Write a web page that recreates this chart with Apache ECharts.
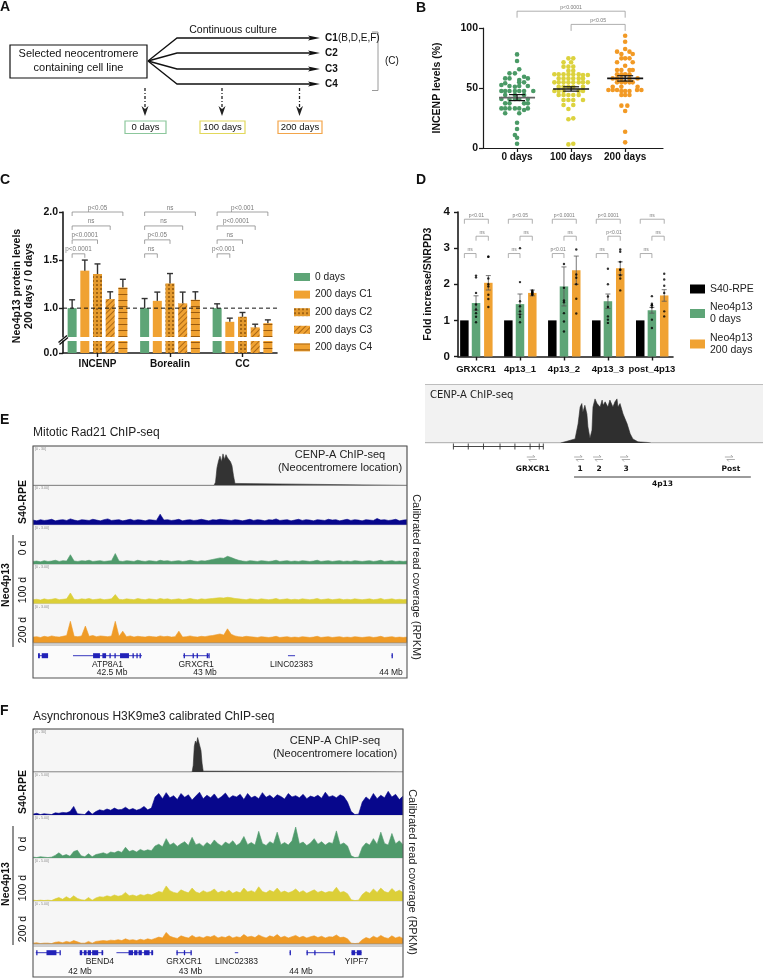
<!DOCTYPE html>
<html><head><meta charset="utf-8">
<script src="https://cdn.jsdelivr.net/npm/echarts@6/dist/echarts.min.js"></script>
<style>html,body{margin:0;padding:0;background:#fff;}#chart{width:763px;height:978px;}</style>
</head><body><div id="chart"></div>
<script>
// ================= DATA =================
// Panel B: [jitter within group, INCENP level %]
const B_groups = ['0 days', '100 days', '200 days'];
const B_day0 = [[0,78],[0,72.5],[0.04,65.6],[-0.14,62.2],[-0.04,62.2],[0.13,59.4],[-0.22,58],[-0.14,58],[0.2,58],[0.04,56.7],[0.04,54.7],[0.13,54.7],[-0.22,53.9],[-0.29,52.5],[-0.14,51.7],[-0.04,51.1],[0.04,51.7],[0.2,51.7],[-0.29,47.5],[-0.22,47.5],[-0.14,47.5],[-0.04,47.5],[0.04,47.5],[0.13,47.5],[0.3,47.5],[-0.22,44.2],[-0.04,44.2],[0.13,44.2],[-0.29,40.8],[-0.14,40.8],[-0.04,40.8],[0.04,40.8],[0.2,40.8],[-0.22,37.2],[-0.14,37.2],[0.13,37.2],[0.2,37.2],[-0.29,33],[-0.22,33],[-0.14,33],[-0.04,33],[0.04,33],[0.2,33],[-0.22,28.9],[0.04,28.9],[0.13,31.7],[0,21.1],[0,15.8],[-0.04,10.8],[0,8.6],[0,3.6]];
const B_day100 = [[-0.05,74.7],[0.04,74.7],[-0.14,71.4],[0,71.4],[-0.14,67.8],[-0.05,67.8],[0.04,67.8],[-0.05,64.4],[0.04,64.4],[-0.31,61.4],[-0.23,61.4],[-0.14,61.4],[-0.05,61.4],[0.04,61.4],[0.14,61.4],[0.22,60.8],[0.31,60.8],[-0.23,58],[-0.14,58],[-0.05,58],[0.04,58],[0.14,58],[0.22,58],[-0.31,54.7],[-0.23,54.7],[-0.14,54.7],[-0.05,54.7],[0.04,54.7],[0.14,54.7],[0.22,54.7],[0.31,54.7],[-0.23,51.1],[-0.14,51.1],[-0.05,51.1],[0.04,51.1],[0.22,51.1],[-0.31,47.5],[-0.23,47.5],[-0.14,47.5],[0.14,47.5],[0.22,47.5],[-0.23,44.2],[-0.14,44.2],[-0.05,44.2],[0.04,44.2],[0.14,44.2],[-0.14,40],[-0.05,40],[0.04,40],[0.22,40],[-0.14,35.8],[0.04,35.8],[-0.05,32.5],[-0.05,23.9],[0.04,24.7],[-0.05,3],[0.04,3.6]];
const B_day200 = [[0,93.6],[0,88.6],[-0.15,80.3],[0,82.5],[0.08,80.3],[-0.07,78.3],[0.14,78.3],[-0.07,74.7],[0,74.7],[0.08,74.7],[-0.15,71.4],[0.14,71.4],[0,68.6],[-0.15,65],[-0.07,65],[0.08,65],[0.14,65],[-0.15,61.4],[-0.07,61.4],[0,61.4],[0.08,61.4],[-0.23,58],[-0.15,58],[-0.07,58],[0.08,58],[0.23,58],[-0.15,54.7],[-0.07,54.7],[0,54.7],[0.08,54.7],[0.14,54.7],[-0.23,51.1],[-0.07,51.1],[0.23,51.1],[-0.31,48.3],[-0.23,48.3],[-0.15,48.3],[-0.07,47.5],[0,47.5],[0.08,47.5],[0.22,48.3],[0.3,48.3],[-0.07,44.2],[0,44.2],[0.08,44.2],[-0.07,35.3],[0.04,35.3],[0,30.8],[0,13.6],[0,4.7]];
const B_mean = [42, 49.2, 58];
const B_sem = [2.5, 1.8, 2.2];
const B_comps = [[0, 2, 'p<0.0001'], [1, 2, 'p<0.05']];

// Panel C
const C_categories = ['INCENP', 'Borealin', 'CC'];
const C_groups = ['0 days', '200 days C1', '200 days C2', '200 days C3', '200 days C4'];
const C_day0 = [1.00, 1.00, 1.00];
const C_c1 = [1.39, 1.076, 0.858];
const C_c2 = [1.355, 1.257, 0.91];
const C_c3 = [1.094, 1.05, 0.80];
const C_c4 = [1.215, 1.087, 0.844];
const C_err0 = [0.087, 0.10, 0.045];
const C_err1 = [0.11, 0.091, 0.038];
const C_err2 = [0.105, 0.103, 0.045];
const C_err3 = [0.076, 0.117, 0.033];
const C_err4 = [0.085, 0.083, 0.034];
const C_refLine = 1.0;
const C_comps = [[0,0,4,'p<0.05'],[0,0,3,'ns'],[0,0,2,'p<0.0001'],[0,0,1,'p<0.0001'],
                 [1,0,4,'ns'],[1,0,3,'ns'],[1,0,2,'p<0.05'],[1,0,1,'ns'],
                 [2,0,4,'p<0.001'],[2,0,3,'p<0.0001'],[2,0,2,'ns'],[2,0,1,'p<0.001']];

// Panel D
const D_sites = ['GRXCR1', '4p13_1', '4p13_2', '4p13_3', 'post_4p13'];
const D_groups = ['S40-RPE', 'Neo4p13\n0 days', 'Neo4p13\n200 days'];
const D_s40 = [1, 1, 1, 1, 1];
const D_neo0 = [1.48, 1.45, 1.94, 1.53, 1.28];
const D_neo200 = [2.04, 1.76, 2.39, 2.44, 1.69];
const D_neo0Err = [0.2, 0.28, 0.54, 0.2, 0.08];
const D_neo200Err = [0.2, 0.08, 0.39, 0.18, 0.16];
const D_neo0Pts = [[2.24,2.19,1.76,1.44,1.30,1.20,1.10,0.95],[3.0,2.06,1.53,1.39,1.25,1.16,1.09,0.95],[2.56,1.9,1.55,1.5,1.2,0.97,0.69],[2.43,2.0,1.66,1.37,1.11,1.02,0.93],[1.67,1.46,1.42,1.42,1.36,1.02,0.79]];
const D_neo200Pts = [[2.76,2.76,2.16,2.0,1.94,1.71,1.59,1.37],[1.83,1.8,1.78,1.76,1.74,1.72,1.7],[2.96,2.27,2.18,2.0,1.6,1.19],[2.96,2.9,2.62,2.4,2.4,2.25,2.16,1.83],[2.29,2.13,1.96,1.76,1.25,1.11]];
const D_comps = [[0,0,2,'p<0.01'],[0,1,2,'ns'],[0,0,1,'ns'],
                 [1,0,2,'p<0.05'],[1,1,2,'ns'],[1,0,1,'ns'],
                 [2,0,2,'p<0.0001'],[2,1,2,'ns'],[2,0,1,'p<0.01'],
                 [3,0,2,'p<0.0001'],[3,1,2,'p<0.01'],[3,0,1,'ns'],
                 [4,0,2,'ns'],[4,1,2,'ns'],[4,0,1,'ns']];
// D lower: CENP-A profile over the 4p13 region (relative position 0-100, signal 0-1)
const D_cenpa = [[0,0],[40,0],[41.4,0.02],[44.4,0.07],[45.3,0.33],[45.9,0.62],[46.4,0.68],[46.7,0.53],[47.3,0.65],[47.9,0.5],[48.2,0.28],[48.8,0.08],[49.4,0.22],[49.7,0.62],[50.3,0.76],[50.9,0.68],[51.2,0.71],[51.8,0.62],[52.4,0.74],[52.7,0.65],[53.3,0.71],[53.8,0.68],[54.1,0.62],[54.7,0.74],[55.6,0.62],[56.2,0.71],[56.8,0.76],[57.1,0.62],[57.7,0.68],[58.6,0.5],[59.8,0.33],[60.7,0.16],[61.5,0.07],[63.0,0.02],[65.7,0.01],[67,0],[100,0]];
const D_primerPos = [31.6, 45.6, 51.2, 59.2, 90.2];
const D_primerLab = ['GRXCR1', '1', '2', '3', 'Post'];
const D_geneSpan = [8.4, 35.0];
const D_geneTicks = [8.4, 12.8, 17.3, 22.2, 26.6, 31.1, 33.8, 35.0];
const D_region = [44.1, 96.4];
const D_regionLab = '4p13';

// Panel E (Rad21) : signal fraction of track, 101 bins
const E_cenpa = [[0,0],[48.4,0],[48.8,0.08],[49.2,0.45],[49.6,0.62],[50.0,0.74],[50.4,0.6],[50.8,0.8],[51.2,0.66],[51.6,0.78],[52.0,0.7],[52.4,0.75],[52.8,0.6],[53.2,0.5],[53.6,0.25],[54.0,0.05],[54.3,0],[100,0]];
const E_s40 = [0.12,0.10,0.13,0.11,0.12,0.14,0.10,0.12,0.13,0.11, 0.15,0.12,0.10,0.13,0.12,0.11,0.14,0.12,0.10,0.13, 0.15,0.11,0.12,0.13,0.10,0.12,0.14,0.11,0.13,0.12, 0.10,0.13,0.12,0.11,0.27,0.12,0.13,0.11,0.12,0.14, 0.10,0.12,0.13,0.11,0.12,0.14,0.12,0.10,0.13,0.12, 0.14,0.13,0.12,0.11,0.13,0.12,0.10,0.12,0.14,0.11, 0.13,0.12,0.10,0.13,0.12,0.15,0.11,0.12,0.13,0.10, 0.12,0.14,0.11,0.13,0.12,0.10,0.13,0.12,0.11,0.14, 0.12,0.13,0.10,0.12,0.14,0.11,0.13,0.12,0.10,0.13, 0.12,0.11,0.16,0.12,0.13,0.11,0.12,0.14,0.10,0.12, 0.13];
const E_d0 = [0.07,0.08,0.06,0.09,0.07,0.08,0.10,0.07,0.09,0.08, 0.24,0.08,0.07,0.09,0.08,0.10,0.07,0.08,0.09,0.07, 0.08,0.09,0.27,0.08,0.07,0.09,0.08,0.07,0.10,0.08, 0.07,0.09,0.08,0.07,0.10,0.08,0.09,0.07,0.08,0.09, 0.07,0.08,0.10,0.08,0.07,0.09,0.08,0.10,0.12,0.14, 0.16,0.15,0.20,0.17,0.13,0.10,0.08,0.07,0.09,0.08, 0.07,0.09,0.08,0.07,0.08,0.10,0.07,0.08,0.09,0.07, 0.08,0.07,0.09,0.08,0.07,0.08,0.10,0.07,0.08,0.09, 0.07,0.08,0.09,0.07,0.08,0.07,0.09,0.08,0.07,0.08, 0.09,0.07,0.08,0.10,0.07,0.08,0.09,0.07,0.08,0.07, 0.08];
const E_d100 = [0.10,0.11,0.09,0.12,0.10,0.11,0.13,0.10,0.11,0.12, 0.27,0.11,0.10,0.12,0.11,0.13,0.10,0.11,0.12,0.10, 0.11,0.12,0.23,0.11,0.10,0.12,0.11,0.10,0.13,0.11, 0.10,0.12,0.11,0.10,0.13,0.11,0.12,0.10,0.11,0.12, 0.10,0.11,0.13,0.11,0.10,0.12,0.11,0.12,0.13,0.14, 0.15,0.14,0.16,0.15,0.13,0.12,0.11,0.10,0.12,0.11, 0.10,0.12,0.11,0.10,0.11,0.13,0.10,0.11,0.12,0.10, 0.11,0.10,0.12,0.11,0.10,0.11,0.13,0.10,0.11,0.12, 0.10,0.11,0.12,0.10,0.11,0.10,0.12,0.11,0.10,0.11, 0.12,0.10,0.11,0.13,0.10,0.11,0.12,0.10,0.11,0.10, 0.11];
const E_d200 = [0.15,0.16,0.14,0.17,0.15,0.18,0.16,0.15,0.17,0.19, 0.55,0.17,0.16,0.18,0.43,0.17,0.19,0.16,0.18,0.17, 0.16,0.18,0.55,0.17,0.30,0.16,0.18,0.15,0.17,0.16, 0.15,0.17,0.16,0.15,0.18,0.16,0.17,0.15,0.16,0.30, 0.15,0.16,0.18,0.16,0.15,0.17,0.16,0.18,0.19,0.21, 0.23,0.20,0.36,0.22,0.18,0.16,0.15,0.17,0.16,0.15, 0.14,0.16,0.15,0.14,0.15,0.17,0.14,0.15,0.16,0.14, 0.15,0.14,0.16,0.15,0.14,0.15,0.17,0.14,0.15,0.16, 0.14,0.15,0.16,0.14,0.15,0.14,0.16,0.15,0.14,0.15, 0.16,0.14,0.15,0.17,0.14,0.15,0.16,0.14,0.15,0.14, 0.15];
const E_genes = [[42.102,42.156,''],[42.290,42.661,'ATP8A1'],[42.882,43.022,'GRXCR1'],[43.446,43.484,'LINC02383'],[44.003,44.007,'']];
const E_exons = [[42.102,42.112],[42.122,42.156],[42.398,42.435],[42.448,42.468],[42.486,42.492],[42.513,42.519],[42.543,42.591],[42.610,42.616],[42.631,42.637],[42.648,42.654],[42.885,42.889],[42.933,42.937],[42.955,42.959],[43.009,43.013],[43.018,43.022],[44.003,44.007]];
const E_ticks = [42.5, 43, 44];

// Panel F (H3K9me3)
const F_cenpa = [[0,0],[43.0,0],[43.3,0.15],[43.6,0.6],[43.9,0.72],[44.2,0.66],[44.5,0.8],[44.8,0.7],[45.1,0.68],[45.4,0.5],[45.7,0.2],[46.0,0.02],[46.3,0],[100,0]];
const F_s40 = [0.02,0.04,0.01,0.03,0.02,0.01,0.05,0.04,0.06,0.05, 0.08,0.20,0.03,0.02,0.01,0.10,0.02,0.08,0.12,0.10, 0.14,0.11,0.16,0.12,0.13,0.18,0.12,0.15,0.11,0.14, 0.20,0.12,0.16,0.42,0.50,0.38,0.52,0.40,0.45,0.36, 0.50,0.41,0.47,0.35,0.44,0.53,0.38,0.46,0.40,0.49, 0.37,0.43,0.51,0.39,0.45,0.42,0.48,0.36,0.50,0.40, 0.44,0.38,0.52,0.41,0.46,0.39,0.47,0.43,0.37,0.50, 0.42,0.45,0.40,0.48,0.38,0.44,0.41,0.46,0.39,0.53, 0.42,0.45,0.40,0.47,0.43,0.30,0.08,0.01,0.02,0.30, 0.42,0.35,0.50,0.38,0.46,0.40,0.55,0.42,0.48,0.36, 0.44];
const F_d0 = [0.02,0.01,0.03,0.02,0.01,0.02,0.06,0.12,0.05,0.08, 0.04,0.15,0.18,0.05,0.03,0.10,0.03,0.08,0.10,0.12, 0.09,0.14,0.12,0.16,0.13,0.25,0.15,0.18,0.14,0.20, 0.16,0.19,0.17,0.28,0.32,0.26,0.45,0.30,0.35,0.27, 0.33,0.38,0.29,0.48,0.31,0.34,0.27,0.36,0.30,0.42, 0.33,0.28,0.37,0.32,0.40,0.29,0.35,0.50,0.31,0.36, 0.30,0.62,0.34,0.29,0.38,0.33,0.60,0.31,0.36,0.30, 0.40,0.72,0.33,0.37,0.29,0.35,0.45,0.32,0.38,0.30, 0.36,0.34,0.63,0.31,0.35,0.28,0.05,0.01,0.02,0.25, 0.35,0.30,0.45,0.32,0.60,0.34,0.30,0.57,0.33,0.40, 0.31];
const F_d100 = [0.02,0.01,0.02,0.01,0.02,0.01,0.05,0.08,0.04,0.10, 0.05,0.12,0.06,0.03,0.02,0.08,0.02,0.07,0.10,0.09, 0.12,0.10,0.14,0.11,0.13,0.20,0.12,0.14,0.11,0.15, 0.13,0.16,0.14,0.18,0.22,0.20,0.35,0.24,0.20,0.18, 0.26,0.22,0.19,0.30,0.21,0.18,0.24,0.20,0.22,0.28, 0.19,0.23,0.20,0.25,0.18,0.22,0.19,0.30,0.21,0.24, 0.20,0.33,0.22,0.19,0.25,0.21,0.30,0.20,0.23,0.19, 0.22,0.28,0.20,0.24,0.18,0.22,0.26,0.20,0.23,0.19, 0.22,0.21,0.32,0.20,0.22,0.17,0.03,0.01,0.02,0.15, 0.22,0.18,0.28,0.20,0.30,0.22,0.19,0.29,0.21,0.25, 0.20];
const F_d200 = [0.02,0.03,0.01,0.02,0.02,0.01,0.04,0.05,0.03,0.06, 0.04,0.08,0.05,0.02,0.02,0.06,0.02,0.06,0.07,0.08, 0.07,0.09,0.08,0.10,0.08,0.12,0.09,0.10,0.08,0.11, 0.09,0.12,0.10,0.13,0.16,0.14,0.27,0.18,0.15,0.13, 0.19,0.16,0.14,0.20,0.15,0.17,0.14,0.18,0.16,0.20, 0.14,0.17,0.15,0.19,0.14,0.17,0.15,0.22,0.16,0.18, 0.15,0.21,0.17,0.14,0.19,0.16,0.22,0.15,0.18,0.14, 0.17,0.20,0.15,0.18,0.14,0.17,0.19,0.15,0.18,0.14, 0.17,0.16,0.21,0.15,0.16,0.12,0.02,0.01,0.02,0.10, 0.15,0.12,0.18,0.14,0.20,0.15,0.13,0.19,0.14,0.17, 0.13];
const F_genes = [[41.600,41.817,''],[41.998,42.210,'BEND4',42.18],[42.330,42.662,''],[42.873,43.009,'GRXCR1'],[43.401,43.432,'LINC02383'],[43.897,43.901,''],[44.050,44.303,''],[44.457,44.548,'YIPF7']];
const F_exons = [[41.604,41.61],[41.697,41.787],[41.815,41.819],[41.998,42.02],[42.035,42.06],[42.07,42.1],[42.11,42.165],[42.195,42.21],[42.44,42.48],[42.49,42.52],[42.53,42.56],[42.58,42.63],[42.645,42.662],[42.873,42.88],[42.94,42.947],[43.0,43.009],[43.897,43.901],[44.05,44.058],[44.12,44.125],[44.295,44.303],[44.457,44.49],[44.505,44.548]];
const F_ticks = [42, 43, 44];

// ================= STYLE / LAYOUT =================
const FONT = "'Liberation Sans', Arial, Helvetica, sans-serif";
const VFONT = "'DejaVu Sans', Verdana, sans-serif";
const GREEN = '#5ea577', ORANGE = '#f0a232', YEL = '#dcd23e';
const TRK = {navy: '#07078c', green: '#4f9a6b', yellow: '#dccf38', orange: '#ef9b27', cen: '#333333'};

const chart = echarts.init(document.getElementById('chart'), null, {renderer: 'canvas'});
const grid = [], xAxis = [], yAxis = [], series = [];
function addGrid(g, xa, ya) {
  const i = grid.length; grid.push(g);
  xAxis.push(Object.assign({gridIndex: i, type: 'value', splitLine: {show: false}}, xa));
  yAxis.push(Object.assign({gridIndex: i, type: 'value', splitLine: {show: false}}, ya));
  return i;
}
const hid = (min, max) => ({min, max, show: false});
const line = (w) => ({show: true, onZero: false, lineStyle: {color: '#1a1a1a', width: w}});
const tick = (cv, w) => { const t = {show: true, length: 4, lineStyle: {color: '#1a1a1a', width: w || 1.2}}; if (cv) t.customValues = cv; return t; };
const lab = (o) => Object.assign({fontWeight: 'bold', color: '#111', fontFamily: FONT}, o);

function txt(x, y, text, o) {
  o = o || {};
  return {type: 'text', x, y, rotation: o.rot || 0, silent: true, z: 100,
    style: {text, fill: o.color || '#111', fontSize: o.size || 10, fontWeight: o.weight || 'normal',
      fontFamily: o.family || FONT, align: o.align || 'left', textAlign: o.align || 'left',
      verticalAlign: o.va || 'middle', textVerticalAlign: o.va || 'middle', lineHeight: o.lh || undefined}};
}
function ln(x1, y1, x2, y2, stroke, w, dash) {
  return {type: 'line', silent: true, z: 60, shape: {x1, y1, x2, y2}, style: {stroke, lineWidth: w || 1, lineDash: dash || null}};
}
function pl(points, stroke, w) { return {type: 'polyline', silent: true, z: 60, shape: {points}, style: {stroke, lineWidth: w || 1, fill: null}}; }
function pg(points, fill) { return {type: 'polygon', silent: true, z: 60, shape: {points}, style: {fill}}; }
function rc(x, y, w, h, stroke, lw) { return {type: 'rect', silent: true, z: 60, shape: {x, y, width: w, height: h}, style: {stroke, lineWidth: lw || 1, fill: 'none'}}; }

function bracketSeries(gi, list, tierY, leg, fs, color) {
  return {
    type: 'custom', xAxisIndex: gi, yAxisIndex: gi, silent: true, z: 10, clip: false,
    data: list.map(d => [d.x1, d.x2, tierY[d.tier]]), encode: {x: [0, 1], y: 2},
    renderItem: (params, api) => {
      const d = list[params.dataIndex];
      const a = api.coord([d.x1, tierY[d.tier]]), b = api.coord([d.x2, tierY[d.tier]]);
      return {type: 'group', children: [
        {type: 'polyline', shape: {points: [[a[0], a[1] + leg], [a[0], a[1]], [b[0], b[1]], [b[0], b[1] + leg]]}, style: {stroke: color, lineWidth: 0.8, fill: null}},
        {type: 'text', x: (a[0] + b[0]) / 2, y: a[1] - 1.2, style: {text: d.t, fill: '#7a7a7a', fontSize: fs, fontFamily: FONT, align: 'center', verticalAlign: 'bottom'}}
      ]};
    }
  };
}

// ---------- Panel B ----------
const gB = addGrid({left: 483, top: 28, width: 180, height: 120},
  {min: -0.63, max: 2.7, axisLine: line(1.2), axisTick: tick([0, 1, 2]),
   axisLabel: lab({customValues: [0, 1, 2], formatter: v => B_groups[Math.round(v)], fontSize: 10, margin: 4})},
  {min: 0, max: 100, interval: 50, axisLine: line(1.2), axisTick: tick(), axisLabel: lab({fontSize: 10.5, margin: 5}),
   name: 'INCENP levels (%)', nameLocation: 'middle', nameGap: 40, nameTextStyle: {fontWeight: 'bold', fontSize: 10.5, color: '#111', fontFamily: FONT}});
[B_day0, B_day100, B_day200].forEach((pts, g) => {
  series.push({type: 'scatter', name: 'B ' + B_groups[g], xAxisIndex: gB, yAxisIndex: gB, symbolSize: 4.6, silent: true,
    itemStyle: {color: ['#4a9a66', YEL, '#f29a25'][g], opacity: 1}, data: pts.map(p => [g + p[0], p[1]]), z: 3});
});
series.push({type: 'custom', xAxisIndex: gB, yAxisIndex: gB, silent: true, z: 6,
  data: B_mean.map((m, g) => [g, m, B_sem[g]]), encode: {x: 0, y: 1},
  renderItem: (params, api) => {
    const g = api.value(0), m = api.value(1), s = api.value(2);
    const c = api.coord([g, m]), hi = api.coord([g, m + s]), lo = api.coord([g, m - s]);
    const col = ['#666', '#111', '#111'][params.dataIndex];
    return {type: 'group', children: [
      {type: 'line', shape: {x1: c[0] - 18, y1: c[1], x2: c[0] + 18, y2: c[1]}, style: {stroke: col, lineWidth: 1.6}},
      {type: 'line', shape: {x1: c[0], y1: hi[1], x2: c[0], y2: lo[1]}, style: {stroke: '#111', lineWidth: 1.2}},
      {type: 'line', shape: {x1: c[0] - 8, y1: hi[1], x2: c[0] + 8, y2: hi[1]}, style: {stroke: '#111', lineWidth: 1.2}},
      {type: 'line', shape: {x1: c[0] - 8, y1: lo[1], x2: c[0] + 8, y2: lo[1]}, style: {stroke: '#111', lineWidth: 1.2}}
    ]};
  }});
series.push(bracketSeries(gB, B_comps.map((c, k) => ({x1: c[0], x2: c[1], tier: k, t: c[2]})), [114, 103], 6.5, 5.2, '#999'));

// ---------- Panel C ----------
const C_off = [-0.35, -0.175, 0, 0.175, 0.35];
const C_vals = [C_day0, C_c1, C_c2, C_c3, C_c4];
const C_errs = [C_err0, C_err1, C_err2, C_err3, C_err4];
const C_cols = [GREEN, ORANGE, '#e49a2e', ORANGE, ORANGE];
const C_decal = [null, null,
  {symbol: 'rect', symbolSize: 1, color: 'rgba(110,60,0,0.55)', dashArrayX: [1.5, 1.5], dashArrayY: [1.5, 1.5], rotation: 0},
  {symbol: 'rect', symbolSize: 1, color: 'rgba(125,65,0,0.6)', dashArrayX: [1, 0], dashArrayY: [1, 2.2], rotation: -Math.PI / 4},
  {symbol: 'rect', symbolSize: 1, color: 'rgba(125,65,0,0.75)', dashArrayX: [1, 0], dashArrayY: [0.9, 4.5], rotation: 0}];
const gCu = addGrid({left: 63, top: 212, width: 214, height: 125},
  hid(-0.476, 2.476),
  {min: 0.7, max: 2.0, axisLine: line(1.6), axisTick: tick([1, 1.5, 2], 1.4),
   axisLabel: lab({customValues: [1, 1.5, 2], formatter: v => v.toFixed(1), fontSize: 10.5, margin: 5})});
const gCl = addGrid({left: 63, top: 341, width: 214, height: 12},
  {min: -0.476, max: 2.476, axisLine: line(1.6), axisTick: tick([0, 1, 2], 1.4),
   axisLabel: lab({customValues: [0, 1, 2], formatter: v => C_categories[Math.round(v)], fontSize: 10, margin: 6})},
  {min: 0, max: 0.2, axisLine: line(1.6), axisTick: tick([0], 1.4),
   axisLabel: lab({customValues: [0], formatter: () => '0.0', fontSize: 10.5, margin: 5})});
[gCu, gCl].forEach(gi => {
  C_vals.forEach((vals, j) => {
    const it = {color: C_cols[j]}; if (C_decal[j]) it.decal = C_decal[j];
    series.push({type: 'bar', name: C_groups[j], xAxisIndex: gi, yAxisIndex: gi, barWidth: 9, barGap: '-100%', clip: true, silent: true,
      itemStyle: it, data: vals.map((v, i) => [i + C_off[j], v]), z: 2});
  });
});
series.push({type: 'custom', xAxisIndex: gCu, yAxisIndex: gCu, silent: true, z: 5,
  data: [].concat(...C_vals.map((vals, j) => vals.map((v, i) => [i + C_off[j], v, C_errs[j][i]]))), encode: {x: 0, y: 1},
  renderItem: (params, api) => {
    const a = api.coord([api.value(0), api.value(1)]), b = api.coord([api.value(0), api.value(1) + api.value(2)]);
    return {type: 'group', children: [
      {type: 'line', shape: {x1: a[0], y1: a[1], x2: b[0], y2: b[1]}, style: {stroke: '#333', lineWidth: 1.4}},
      {type: 'line', shape: {x1: b[0] - 3, y1: b[1], x2: b[0] + 3, y2: b[1]}, style: {stroke: '#333', lineWidth: 1.4}}]};
  }});
series.push({type: 'line', xAxisIndex: gCu, yAxisIndex: gCu, silent: true, symbol: 'none', z: 7,
  data: [[-0.476, C_refLine], [2.476, C_refLine]], lineStyle: {color: '#111', width: 1, type: [4, 3]}});
series.push(bracketSeries(gCu, C_comps.map(c => ({x1: c[0] + C_off[c[1]], x2: c[0] + C_off[c[2]], tier: 4 - c[2], t: c[3]})),
  [2.0, 1.855, 1.71, 1.565], 4, 6.3, '#8a8a8a'));

// ---------- Panel D ----------
const D_off = [-0.265, 0, 0.28];
const D_vals = [D_s40, D_neo0, D_neo200];
const D_cols = ['#000000', GREEN, ORANGE];
const gD = addGrid({left: 458, top: 212, width: 215, height: 144.5},
  {min: -0.41, max: 4.48, axisLine: line(1.6), axisTick: tick([0, 1, 2, 3, 4], 1.4),
   axisLabel: lab({customValues: [0, 1, 2, 3, 4], formatter: v => D_sites[Math.round(v)], fontSize: 9.5, margin: 8})},
  {min: 0, max: 4, interval: 1, axisLine: line(1.6), axisTick: tick(null, 1.4), axisLabel: lab({fontSize: 11.5, margin: 8}),
   name: 'Fold increase/SNRPD3', nameLocation: 'middle', nameGap: 24, nameTextStyle: {fontWeight: 'bold', fontSize: 10.5, color: '#111', fontFamily: FONT}});
D_vals.forEach((vals, j) => {
  series.push({type: 'bar', name: D_groups[j], xAxisIndex: gD, yAxisIndex: gD, barWidth: 8.5, barGap: '-100%', silent: true,
    itemStyle: {color: D_cols[j]}, data: vals.map((v, i) => [i + D_off[j], v]), z: 2});
});
series.push({type: 'custom', xAxisIndex: gD, yAxisIndex: gD, silent: true, z: 5,
  data: [].concat(D_neo0.map((v, i) => [i + D_off[1], v, D_neo0Err[i]]), D_neo200.map((v, i) => [i + D_off[2], v, D_neo200Err[i]])), encode: {x: 0, y: 1},
  renderItem: (params, api) => {
    const x = api.value(0), v = api.value(1), e = api.value(2);
    const hi = api.coord([x, v + e]), lo = api.coord([x, v - e]);
    const s = {stroke: '#555', lineWidth: 0.8};
    return {type: 'group', children: [
      {type: 'line', shape: {x1: hi[0], y1: hi[1], x2: lo[0], y2: lo[1]}, style: s},
      {type: 'line', shape: {x1: hi[0] - 2.5, y1: hi[1], x2: hi[0] + 2.5, y2: hi[1]}, style: s},
      {type: 'line', shape: {x1: lo[0] - 2.5, y1: lo[1], x2: lo[0] + 2.5, y2: lo[1]}, style: s}]};
  }});
[D_neo0Pts, D_neo200Pts].forEach((grp, k) => {
  series.push({type: 'scatter', xAxisIndex: gD, yAxisIndex: gD, silent: true, symbolSize: 2.4, z: 6, itemStyle: {color: '#000'},
    data: [].concat(...grp.map((pts, i) => pts.map(v => [i + D_off[k + 1], v])))});
});
series.push(bracketSeries(gD, D_comps.map(c => ({x1: c[0] + D_off[c[1]], x2: c[0] + D_off[c[2]], tier: c[1] === 1 ? 1 : (c[2] === 1 ? 2 : 0), t: c[3]})),
  [3.80, 3.33, 2.85], 4.5, 5, '#9a9a9a'));

// D lower CENP-A track
const gDc = addGrid({left: 425, top: 385, width: 338, height: 58, show: true, backgroundColor: '#f2f2f2', borderWidth: 0}, hid(0, 100), hid(0, 1));
series.push({type: 'line', xAxisIndex: gDc, yAxisIndex: gDc, silent: true, symbol: 'none', data: D_cenpa,
  lineStyle: {color: '#2f2f2f', width: 0.6}, areaStyle: {color: '#2f2f2f', opacity: 1}, z: 3});
const gDa = addGrid({left: 425, top: 443, width: 338, height: 45}, hid(0, 100), hid(0, 1));
series.push({type: 'custom', xAxisIndex: gDa, yAxisIndex: gDa, silent: true, z: 5, data: [[0, 0]], encode: {x: 0, y: 1},
  renderItem: (params, api) => {
    const cs = params.coordSys; const X = v => api.coord([v, 0])[0];
    const ch = [];
    const yg = cs.y + 3.5;
    ch.push({type: 'line', shape: {x1: X(D_geneSpan[0]), y1: yg, x2: X(D_geneSpan[1]), y2: yg}, style: {stroke: '#333', lineWidth: 0.9}});
    D_geneTicks.forEach(t => ch.push({type: 'line', shape: {x1: X(t), y1: yg - 3, x2: X(t), y2: yg + 3}, style: {stroke: '#333', lineWidth: 0.9}}));
    const yp = cs.y + 15;
    D_primerPos.forEach((p, k) => {
      const x = X(p);
      ch.push({type: 'polyline', shape: {points: [[x - 5, yp - 1], [x + 3, yp - 1], [x + 1, yp - 3]]}, style: {stroke: '#999', lineWidth: 0.8, fill: null}});
      ch.push({type: 'polyline', shape: {points: [[x + 5, yp + 1.5], [x - 3, yp + 1.5], [x - 1, yp + 3.5]]}, style: {stroke: '#999', lineWidth: 0.8, fill: null}});
      ch.push({type: 'text', x: x + 1, y: cs.y + 26.5, style: {text: D_primerLab[k], fill: '#111', fontSize: 7.5, fontWeight: 'bold', fontFamily: VFONT, align: 'center', verticalAlign: 'middle'}});
    });
    const yr = cs.y + 34;
    ch.push({type: 'line', shape: {x1: X(D_region[0]), y1: yr, x2: X(D_region[1]), y2: yr}, style: {stroke: '#222', lineWidth: 0.9}});
    ch.push({type: 'text', x: (X(D_region[0]) + X(D_region[1])) / 2, y: cs.y + 41, style: {text: D_regionLab, fill: '#111', fontSize: 7.5, fontWeight: 'bold', fontFamily: VFONT, align: 'center', verticalAlign: 'middle'}});
    return {type: 'group', children: ch};
  }});

// ---------- Panels E & F (genome tracks) ----------
function trackPanel(left, width, tops, h, arrays, cen, geneTop, geneH, genes, exons, ticks, mbMin, mbMax, geneDy, nameDy) {
  const cols = [TRK.navy, TRK.green, TRK.yellow, TRK.orange];
  const gc = addGrid({left, top: tops[0], width, height: h, show: true, backgroundColor: '#f6f6f6', borderColor: '#a8a8a8', borderWidth: 0.5}, hid(0, 100), hid(0, 1));
  series.push({type: 'line', xAxisIndex: gc, yAxisIndex: gc, silent: true, symbol: 'none', data: cen,
    lineStyle: {color: TRK.cen, width: 0.6}, areaStyle: {color: TRK.cen, opacity: 1}, z: 3});
  arrays.forEach((arr, k) => {
    const gi = addGrid({left, top: tops[k + 1], width, height: h, show: true, backgroundColor: '#f6f6f6', borderColor: '#a8a8a8', borderWidth: 0.5}, hid(0, 100), hid(0, 1));
    series.push({type: 'line', xAxisIndex: gi, yAxisIndex: gi, silent: true, symbol: 'none', data: arr.map((v, i) => [i, v]),
      lineStyle: {color: cols[k], width: 0.6}, areaStyle: {color: cols[k], opacity: 1}, z: 3});
  });
  const gg = addGrid({left, top: geneTop, width, height: geneH, show: true, backgroundColor: '#fbfbfb', borderWidth: 0},
    {min: mbMin, max: mbMax, axisLine: {show: false}, axisTick: {show: false},
     axisLabel: {inside: true, customValues: ticks, formatter: v => v + ' Mb', fontSize: 8.5, color: '#222', margin: 1, fontFamily: FONT}},
    hid(0, 1));
  const GC = '#2222b8';
  series.push({type: 'custom', xAxisIndex: gg, yAxisIndex: gg, silent: true, z: 5, data: genes.map(g => [g[0], g[1], 0.5]), encode: {x: [0, 1], y: 2},
    renderItem: (params, api) => {
      const g = genes[params.dataIndex], cs = params.coordSys;
      const a = api.coord([g[0], 0.5])[0], b = api.coord([g[1], 0.5])[0], y = cs.y + geneDy;
      const ch = [{type: 'line', shape: {x1: a, y1: y, x2: Math.max(b, a + 1), y2: y}, style: {stroke: GC, lineWidth: 0.9}}];
      if (g[2]) {
        const lx = api.coord([g[3] != null ? g[3] : (g[0] + g[1]) / 2, 0.5])[0];
        ch.push({type: 'text', x: lx, y: cs.y + nameDy, style: {text: g[2], fill: '#222', fontSize: 8.5, fontFamily: FONT, align: 'center', verticalAlign: 'middle'}});
      }
      return {type: 'group', children: ch};
    }});
  series.push({type: 'custom', xAxisIndex: gg, yAxisIndex: gg, silent: true, z: 6, data: exons.map(e => [e[0], e[1], 0.5]), encode: {x: [0, 1], y: 2},
    renderItem: (params, api) => {
      const e = exons[params.dataIndex], cs = params.coordSys;
      const a = api.coord([e[0], 0.5])[0], b = api.coord([e[1], 0.5])[0];
      return {type: 'rect', shape: {x: a, y: cs.y + geneDy - 2.5, width: Math.max(b - a, 1.3), height: 5}, style: {fill: GC}};
    }});
}
trackPanel(33, 374, [446, 485.4, 524.8, 564.2, 603.6], 39.4, [E_s40, E_d0, E_d100, E_d200], E_cenpa,
  645, 33, E_genes, E_exons, E_ticks, 42.075, 44.086, 10.7, 19.5);
trackPanel(33, 370, [729, 772, 815, 858, 901], 43, [F_s40, F_d0, F_d100, F_d200], F_cenpa,
  946, 31, F_genes, F_exons, F_ticks, 41.575, 44.923, 6.7, 16);

// ---------- Graphic annotations ----------
const G = [];
G.push(txt(0, 7, 'A', {size: 14, weight: 'bold'}), txt(416, 8, 'B', {size: 14, weight: 'bold'}),
  txt(0, 180, 'C', {size: 14, weight: 'bold'}), txt(416, 180, 'D', {size: 14, weight: 'bold'}),
  txt(0, 420, 'E', {size: 14, weight: 'bold'}), txt(0, 711, 'F', {size: 14, weight: 'bold'}));
// Panel A scheme
G.push(rc(10, 45, 137, 33, '#111', 1.2));
G.push(txt(78.5, 53.5, 'Selected neocentromere', {size: 11, align: 'center'}), txt(78.5, 67.5, 'containing cell line', {size: 11, align: 'center'}));
[[38, 'C1'], [53, 'C2'], [69, 'C3'], [84, 'C4']].forEach(r => {
  G.push(pl([[148, 61], [177, r[0]], [312, r[0]]], '#111', 1.3));
  G.push(pg([[308, r[0] - 2.6], [320, r[0]], [308, r[0] + 2.6], [310.5, r[0]]], '#111'));
  G.push(txt(325, r[0], r[1], {size: 10, weight: 'bold'}));
});
G.push(txt(338, 38, '(B,D,E,F)', {size: 10}));
G.push(txt(233, 30.5, 'Continuous culture', {size: 10.5, align: 'center'}));
G.push(pl([[372, 32], [378, 32], [378, 90.5], [372, 90.5]], '#9a9a9a', 1));
G.push(txt(385, 61, '(C)', {size: 10}));
[[145, '0 days', 125, 41, '#8cc79c'], [222, '100 days', 200, 45, '#e2d85a'], [299.5, '200 days', 278, 44, '#f3a54a']].forEach(a => {
  G.push(ln(a[0], 88, a[0], 109, '#222', 1.3, [3, 2, 1, 2]));
  G.push(pg([[a[0] - 3.5, 106], [a[0], 116], [a[0] + 3.5, 106], [a[0], 109]], '#222'));
  G.push(rc(a[2], 121, a[3], 12.5, a[4], 1.2));
  G.push(txt(a[2] + a[3] / 2, 127.5, a[1], {size: 9.5, align: 'center'}));
});
// Panel C title & axis break
G.push(txt(23, 286, 'Neo4p13 protein levels\n200 days / 0 days', {size: 10.5, weight: 'bold', align: 'center', rot: Math.PI / 2, lh: 12.5}));
G.push(ln(58.5, 342.5, 67, 335.5, '#111', 1.4), ln(59.5, 344.5, 68, 337.5, '#111', 1.4));
// Panel D lower
G.push(ln(425, 384.5, 763, 384.5, '#bdbdbd', 1));
G.push(txt(430, 395, 'CENP-A ChIP-seq', {size: 10, family: VFONT, color: '#222'}));
// Panels E/F frames and labels
function tracksDeco(title, titleY, left, right, tops, bottom, geneTop, cenY1, cenX, sideYs, neoY, neoLine, calY, range) {
  G.push(txt(33, titleY, title, {size: 12, color: '#222'}));
  G.push(rc(left, tops[0], right - left, bottom - tops[0], '#555', 1.1));
  G.push(ln(left, geneTop - 2, right, geneTop - 2, '#8a8a8a', 0.8), ln(left, geneTop, right, geneTop, '#8a8a8a', 0.8));
  G.push(txt(cenX, cenY1, 'CENP-A ChIP-seq', {size: 11, align: 'center', color: '#222'}),
         txt(cenX, cenY1 + 13, '(Neocentromere location)', {size: 11, align: 'center', color: '#222'}));
  tops.forEach((t, k) => G.push(txt(left + 2, t + 3, k === 0 ? '[0 - 30]' : range, {size: 3.5, color: '#888'})));
  G.push(txt(23, sideYs[0], 'S40-RPE', {size: 10.5, weight: 'bold', align: 'center', rot: Math.PI / 2}));
  G.push(txt(6, neoY, 'Neo4p13', {size: 10.5, weight: 'bold', align: 'center', rot: Math.PI / 2}));
  G.push(ln(13, neoLine[0], 13, neoLine[1], '#222', 1));
  G.push(txt(23, sideYs[1], '0 d', {size: 10.5, align: 'center', rot: Math.PI / 2}),
         txt(23, sideYs[2], '100 d', {size: 10.5, align: 'center', rot: Math.PI / 2}),
         txt(23, sideYs[3], '200 d', {size: 10.5, align: 'center', rot: Math.PI / 2}));
  G.push(txt(right + 9, calY, 'Calibrated read coverage (RPKM)', {size: 11, align: 'center', rot: -Math.PI / 2, color: '#222'}));
}
tracksDeco('Mitotic Rad21 ChIP-seq', 433, 33, 407, [446, 485.4, 524.8, 564.2, 603.6], 678, 645, 455, 340, [502, 548, 590, 630], 585, [535, 647], 577, '[0 - 3.00]');
tracksDeco('Asynchronous H3K9me3 calibrated ChIP-seq', 717, 33, 403, [729, 772, 815, 858, 901], 977, 946, 740.5, 335, [792, 844, 888, 929], 884, [826, 945], 872, '[0 - 5.00]');

chart.setOption({
  animation: false,
  backgroundColor: '#ffffff',
  textStyle: {fontFamily: FONT},
  grid, xAxis, yAxis, series,
  legend: [
    {data: C_groups, left: 289, top: 266, orient: 'vertical', itemWidth: 16, itemHeight: 8, itemGap: 5.6, icon: 'rect', selectedMode: false,
     textStyle: {fontSize: 10.2, color: '#222', lineHeight: 12, fontFamily: FONT}},
    {data: D_groups, left: 685, top: 278, orient: 'vertical', itemWidth: 15, itemHeight: 9, itemGap: 6.5, icon: 'rect', selectedMode: false,
     textStyle: {fontSize: 10.5, color: '#222', lineHeight: 12, fontFamily: FONT}}
  ],
  graphic: {elements: G}
});
</script>
</body></html>
